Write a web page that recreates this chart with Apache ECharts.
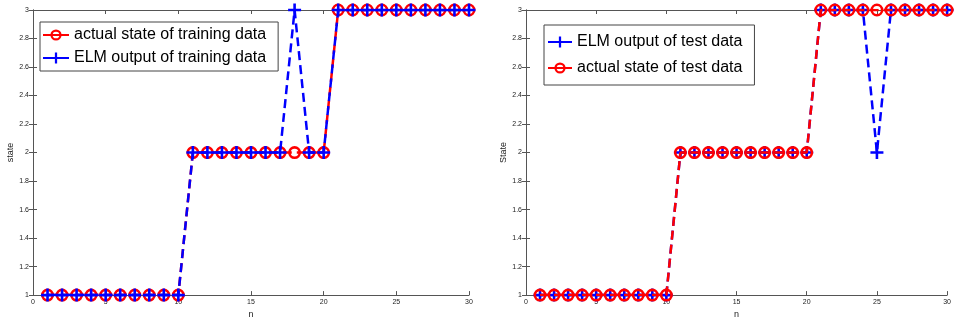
<!doctype html>
<html>
<head>
<meta charset="utf-8">
<title>ELM state</title>
<script type="text/javascript" src="https://cdn.jsdelivr.net/npm/echarts@6/dist/echarts.min.js"></script>
</head>
<body style="margin:0;padding:0;background:#fff">
<div id="tb" style="width:954px;height:324px;"></div>
<script>
// sample index
var n = [1,2,3,4,5,6,7,8,9,10,11,12,13,14,15,16,17,18,19,20,21,22,23,24,25,26,27,28,29,30];
// training set
var trainActual = [1,1,1,1,1,1,1,1,1,1,2,2,2,2,2,2,2,2,2,2,3,3,3,3,3,3,3,3,3,3];
var trainELM    = [1,1,1,1,1,1,1,1,1,1,2,2,2,2,2,2,2,3,2,2,3,3,3,3,3,3,3,3,3,3];
// test set
var testActual  = [1,1,1,1,1,1,1,1,1,1,2,2,2,2,2,2,2,2,2,2,3,3,3,3,3,3,3,3,3,3];
var testELM     = [1,1,1,1,1,1,1,1,1,1,2,2,2,2,2,2,2,2,2,2,3,3,3,3,2,3,3,3,3,3];
var xTicks = [0, 30, 5];
var yTicks = [1, 3, 0.2];

var RED = '#ff0000', BLUE = '#0000ff', AXC = '#555';
var ring = 'path://M0,10a10,10 0 1,0 20,0a10,10 0 1,0 -20,0zM4,10a6,6 0 1,1 12,0a6,6 0 1,1 -12,0z';
var plus = 'path://M4,0h2v4h4v2h-4v4h-2v-4h-4v-2h4z';

function pts(v) {
    return n.map(function (x, i) { return [x, v[i]]; });
}

var bt = document.getElementById('tb');
var chart = echarts.init(bt);

var grids = [
    {left: 33, right: 485, top: 10, bottom: 26},
    {left: 526, right: 6, top: 10, bottom: 26}
];

var xAxes = [], yAxes = [];
grids.forEach(function (g, k) {
    xAxes.push({
        type: 'value', gridIndex: k, min: xTicks[0], max: xTicks[1], interval: xTicks[2],
        name: 'n', nameLocation: 'middle', nameGap: 14,
        nameTextStyle: {fontSize: 9, fontFamily: 'Liberation Sans', color: '#222'},
        axisLine: {lineStyle: {color: AXC}},
        axisTick: {inside: true, length: 4, lineStyle: {color: AXC}},
        axisLabel: {fontSize: 7, margin: 3, color: '#222', fontFamily: 'Liberation Sans'},
        splitLine: {show: false}
    });
    xAxes.push({
        type: 'value', gridIndex: k, position: 'top', min: xTicks[0], max: xTicks[1], interval: xTicks[2],
        axisLine: {show: true, lineStyle: {color: AXC}},
        axisTick: {inside: true, length: 4, lineStyle: {color: AXC}},
        axisLabel: {show: false}, splitLine: {show: false}
    });
    yAxes.push({
        type: 'value', gridIndex: k, min: yTicks[0], max: yTicks[1], interval: yTicks[2],
        name: k === 0 ? 'state' : 'State', nameLocation: 'middle', nameGap: 18,
        nameTextStyle: {fontSize: 9, fontFamily: 'Liberation Sans', color: '#222'},
        axisLine: {show: true, lineStyle: {color: AXC}},
        axisTick: {show: true, inside: true, length: 4, lineStyle: {color: AXC}},
        axisLabel: {fontSize: 7, margin: 4, color: '#222', fontFamily: 'Liberation Sans'},
        splitLine: {show: false}
    });
    yAxes.push({
        type: 'value', gridIndex: k, position: 'right', min: yTicks[0], max: yTicks[1], interval: yTicks[2],
        axisLine: {show: true, lineStyle: {color: AXC}},
        axisTick: {show: true, inside: true, length: 4, lineStyle: {color: AXC}},
        axisLabel: {show: false}, splitLine: {show: false}
    });
});

function ser(name, data, k, color, sym, z) {
    return {
        name: name, type: 'line', xAxisIndex: k * 2, yAxisIndex: k * 2,
        data: pts(data), z: z,
        symbol: sym, symbolSize: 13, showAllSymbol: true,
        lineStyle: {color: color, width: 2.5, type: [9, 5]},
        itemStyle: {color: color},
        animation: false
    };
}

var legendBase = {
    orient: 'vertical', backgroundColor: '#fff', borderColor: '#444', borderWidth: 1,
    borderRadius: 0, itemHeight: 14, lineStyle: {type: 'solid'},
    textStyle: {fontSize: 16, fontFamily: 'Liberation Sans', color: '#000'}
};

chart.setOption({
    backgroundColor: '#fff',
    animation: false,
    grid: grids,
    xAxis: xAxes,
    yAxis: yAxes,
    legend: [
        Object.assign({}, legendBase, {left: 40, top: 22, padding: [5, 12, 5, 2], itemGap: 7, itemWidth: 26,
            data: ['actual state of training data', 'ELM output of training data']}),
        Object.assign({}, legendBase, {left: 544, top: 25, padding: [9, 12, 9, 3], itemGap: 10, itemWidth: 24,
            data: ['ELM output of test data', 'actual state of test data']})
    ],
    series: [
        ser('actual state of training data', trainActual, 0, RED, ring, 2),
        ser('ELM output of training data', trainELM, 0, BLUE, plus, 3),
        ser('ELM output of test data', testELM, 1, BLUE, plus, 2),
        ser('actual state of test data', testActual, 1, RED, ring, 3)
    ]
});
</script>
</body>
</html>
